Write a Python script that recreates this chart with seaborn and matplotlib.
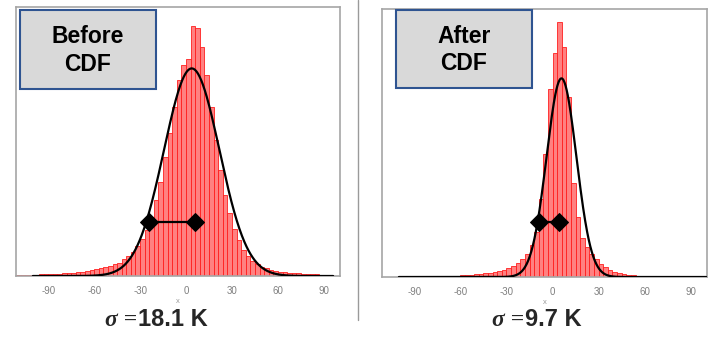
import numpy as np
import pandas as pd
import matplotlib
matplotlib.use("Agg")
import matplotlib.pyplot as plt
import seaborn as sns
from matplotlib.patches import Rectangle
from matplotlib.lines import Line2D

# ---- data -------------------------------------------------------------
BIN_WIDTH = 3  # K

# error histogram before the CDF correction (bins start at -111 K)
before_start = -111
before_counts = [
    2, 2, 2, 3, 3, 4, 4, 4.5, 5, 5, 6, 7, 7.5, 9, 10, 12, 13, 15, 18, 20,
    23, 26, 30, 37, 45, 54, 67, 82, 103, 131, 170, 210, 266, 318, 378, 437,
    470, 484, 558, 553, 511, 448, 378, 303, 236, 181, 140, 104, 80, 59, 45,
    34, 26, 21, 17, 14, 12, 10, 9, 7.5, 7, 6, 5, 4.5, 4, 3.5, 3, 2.5, 2,
]

# error histogram after the CDF correction (bins start at -63 K)
after_start = -63
after_counts = [
    4.5, 5.6, 6.7, 7.8, 9, 10, 12, 15, 18, 21, 25, 30, 37, 47, 59, 78, 106,
    151, 261, 412, 633, 751, 858, 773, 605, 314, 202, 132, 101, 78, 60, 45,
    34, 25, 18, 12, 9, 6.7, 5.6, 4.5,
]

# fitted normal curves: mean, standard deviation, peak height, x-range
before_fit = dict(mu=3.7, sigma=18.1, peak=463, lo=-100, hi=96)
after_fit = dict(mu=5.8, sigma=9.7, peak=667, lo=-100, hi=100)

# width markers drawn on each panel
before_marks_x = [-24.5, 6]
before_marks_y = 121
after_marks_x = [-9, 4]
after_marks_y = 186

x_ticks = [-90, -60, -30, 0, 30, 60, 90]
x_tick_labels = ["-90", "-60", "-30", "0", "30", "60", "90"]

panel_titles = ["Before\nCDF", "After\nCDF"]
sigma_values = ["18.1 K", "9.7 K"]

# ---- style ------------------------------------------------------------
sns.set_style("white")
plt.rcParams["font.family"] = ["Liberation Sans", "DejaVu Sans"]
plt.rcParams["axes.unicode_minus"] = False

W, H = 712, 338
fig = plt.figure(figsize=(W / 100, H / 100), dpi=100)


def fx(px):
    return px / W


def fy(py):
    return 1 - py / H


SPINE = "#a6a6a6"
BAR_FACE = (1.0, 0.45, 0.45)
BAR_EDGE = (1.0, 0.12, 0.12)


def draw_panel(rect, start, counts, fit, marks_x, marks_y, ymax, ystep):
    ax = fig.add_axes(rect)
    n_bins = len(counts)
    centers = start + BIN_WIDTH * (np.arange(n_bins) + 0.5)
    hist_df = pd.DataFrame({"err": centers, "n": counts})
    sns.histplot(data=hist_df, x="err", weights="n", binwidth=BIN_WIDTH,
                 binrange=(start, start + BIN_WIDTH * n_bins), ax=ax,
                 color=BAR_FACE, edgecolor=BAR_EDGE, linewidth=0.6,
                 alpha=0.9, zorder=2)

    xs = np.linspace(fit["lo"], fit["hi"], 600)
    ys = fit["peak"] * np.exp(-0.5 * ((xs - fit["mu"]) / fit["sigma"]) ** 2)
    sns.lineplot(x=xs, y=ys, ax=ax, color="black", linewidth=1.6, zorder=4)

    sns.lineplot(x=marks_x, y=[marks_y] * len(marks_x), ax=ax, color="black",
                 linewidth=1.6, marker="D", markersize=9.5,
                 markeredgecolor="black", zorder=5)

    ax.set_xlim(-111, 100.5)
    ax.set_ylim(0, ymax)
    ax.set_xticks(x_ticks)
    ax.set_xticklabels(x_tick_labels)
    ax.set_yticks(np.arange(0, ymax + 1, ystep))
    ax.set_yticklabels([])
    ax.tick_params(axis="both", direction="out", length=3, width=0.8,
                   color=SPINE, labelsize=7, labelcolor="#7f7f7f", pad=4)
    for sp in ax.spines.values():
        sp.set_visible(True)
        sp.set_color(SPINE)
        sp.set_linewidth(1.2)
    ax.set_ylabel("")
    ax.set_xlabel("x", fontsize=5.5, color="#9a9a9a", labelpad=1.5)
    ax.grid(False)
    return ax


ax_before = draw_panel([fx(16), 1 - 276 / H, fx(324), 269 / H],
                       before_start, before_counts, before_fit,
                       before_marks_x, before_marks_y, 600, 100)
ax_after = draw_panel([fx(382), 1 - 277 / H, fx(325), 268 / H],
                      after_start, after_counts, after_fit,
                      after_marks_x, after_marks_y, 900, 100)

# divider between the two panels
fig.add_artist(Line2D([fx(357.5), fx(357.5)], [fy(0), fy(320)],
                      color="#9a9a9a", linewidth=1.0))

# title boxes
for (x0, x1, y0, y1), title in zip([(19.5, 156, 10, 89), (396, 532, 10, 88)],
                                   panel_titles):
    fig.add_artist(Rectangle((fx(x0), fy(y1)), fx(x1 - x0), (y1 - y0) / H,
                             facecolor="#d9d9d9", edgecolor="#2f5491",
                             linewidth=1.5, transform=fig.transFigure,
                             zorder=10))
    fig.text(fx((x0 + x1) / 2), fy((y0 + y1) / 2 + 1), title, ha="center",
             va="center", fontsize=16.5, fontweight="bold", color="black",
             linespacing=1.25, zorder=11)

# sigma annotations beneath each panel
for x_split, value in zip([137.5, 524.5], sigma_values):
    fig.text(fx(x_split), fy(326), "σ =", ha="right", va="baseline",
             fontsize=17, fontweight="bold", fontstyle="italic",
             family=["Liberation Serif", "DejaVu Serif"], zorder=12)
    fig.text(fx(x_split + 0.5), fy(326), value, ha="left", va="baseline",
             fontsize=17, fontweight="bold", zorder=12)

fig.savefig("out.png", dpi=100, facecolor="white")
